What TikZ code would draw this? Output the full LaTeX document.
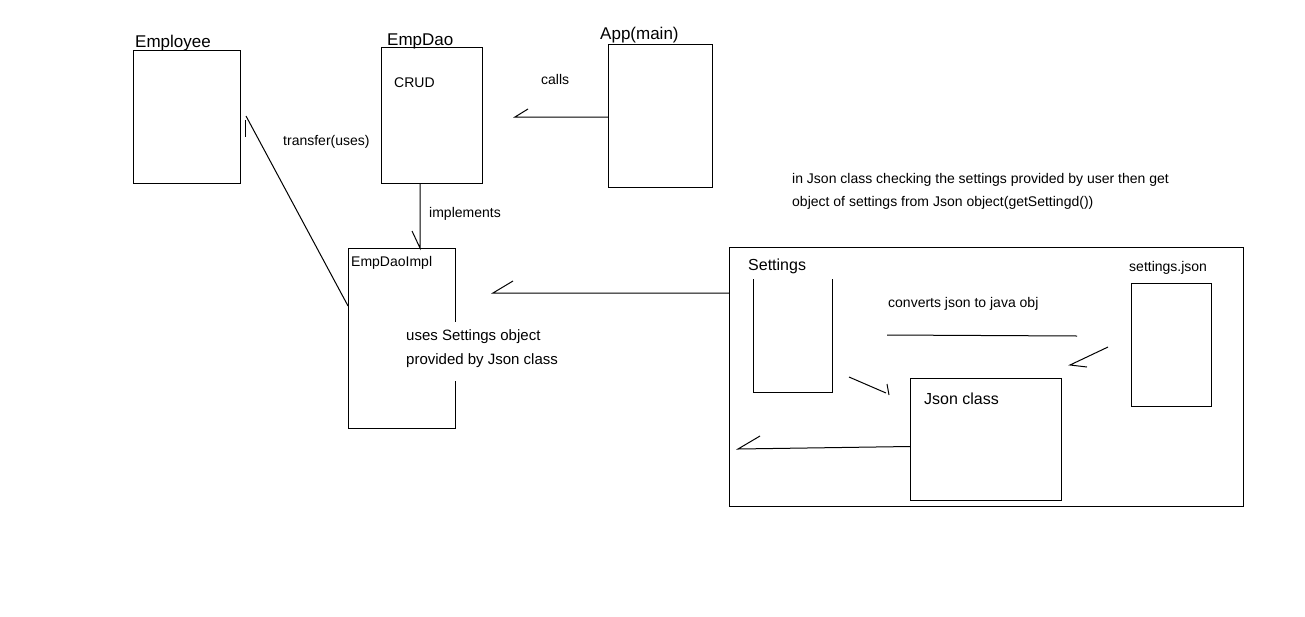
\documentclass[tikz,border=0pt]{standalone}
\usepackage{fontspec}
\setmainfont{Liberation Sans}
\usetikzlibrary{calc,positioning}

\tikzset{
	classbox/.style={draw, line width=1pt, anchor=north west, inner sep=0pt},
	txt/.style={anchor=base west, inner sep=0pt, font=\fontsize{14}{17}\selectfont},
	ttl/.style={txt, font=\fontsize{17}{20}\selectfont},
	wire/.style={line width=1pt}
}

\begin{document}
\begin{tikzpicture}[x=1pt, y=-1pt]
			\useasboundingbox (0,0) rectangle (1305,616);

			\node[classbox, minimum width=107, minimum height=133] (employee) at (133,50) {};
				\node[ttl] (employeettl) at (135,47) {Employee};
			\node[classbox, minimum width=101, minimum height=136] (empdao) at (381,47) {};
				\node[ttl] (empdaottl) at (387,45) {EmpDao};
				\node[txt] (crud) at (394,87) {CRUD};
			\node[classbox, minimum width=104, minimum height=143] (app) at (608,44) {};
				\node[ttl] (appttl) at (600,39) {App(main)};
				\node[txt] (calls) at (541,84) {calls};

			\node[classbox, minimum width=107, minimum height=180] (impl) at (348,248) {};
				\node[txt] (impltll) at (351,266) {EmpDaoImpl};
				\node[txt, font=\fontsize{15}{18}\selectfont, fill=white, inner xsep=6, inner ysep=7, text height=11, text depth=4] (usesa) at (400,340) {uses Settings object};
				\node[txt, font=\fontsize{15}{18}\selectfont, fill=white, inner xsep=6, inner ysep=7, text height=11, text depth=10] (usesb) at (400,364) {provided by Json class};
				\node[txt] (transfer) at (283,145) {transfer(uses)};
				\node[txt] (implements) at (429,217) {implements};

			\node[txt] (notea) at (792,183) {in Json class checking the settings provided by user then get};
			\node[txt] (noteb) at (792,206) {object of settings from Json object(getSettingd())};

			% json part
			\node[classbox, minimum width=514, minimum height=259] (group) at (729,247) {};
				\node[txt, font=\fontsize{16}{19}\selectfont] (settingsttl) at (748,270) {Settings};
				\node[anchor=north west, inner sep=0pt, minimum width=79, minimum height=113] (settings) at (753,279) {};
				\draw[wire] (settings.north west) -- (settings.south west) -- (settings.south east) -- (settings.north east);
				\node[txt] (setjsonttl) at (1129,271) {settings.json};
				\node[classbox, minimum width=80, minimum height=123] (setjson) at (1131,283) {};
				\node[txt] (converts) at (888,307) {converts json to java obj};
				\node[classbox, minimum width=151, minimum height=122] (jsonclass) at (910,378) {};
				\node[txt, font=\fontsize{16}{19}\selectfont] (jsonttl) at (924,404) {Json class};

			% connectors
			\coordinate (callstip) at (515,117);
			\draw[wire] (app.west |- callstip) -- (callstip) -- ++(13,-8);

			\coordinate (emptip) at (246,116);
			\draw[wire] ($(impl.north west)!0.32!(impl.south west)$) -- (emptip);
			\draw[wire] ($(emptip)+(-1,4)$) -- ++(0,17);

			\coordinate (impltop) at (420,248);
			\draw[wire] (empdao.south -| impltop) -- (impltop) -- ++(-8,-17);

			\coordinate (grouptip) at (493,293);
			\draw[wire] (group.west |- grouptip) -- (grouptip) -- ++(20,-12);

			\coordinate (conva) at (887,335);
			\coordinate (convb) at (1077,336);
			\draw[wire] (conva) -- (convb);

			\coordinate (settail) at (849,377);
			\coordinate (settip) at (886,393);
			\draw[wire] (settail) -- (settip);
			\draw[wire] ($(settip)+(1,-9)$) -- ++(2,11);

			\coordinate (jstail) at (1108,347);
			\coordinate (jstip) at (1070,365);
			\draw[wire] (jstail) -- (jstip) -- ++(17,2);

			\coordinate (outtip) at (738,449);
			\draw[wire] ($(jsonclass.west)+(0,7)$) -- (outtip) -- ++(22,-13);

		\end{tikzpicture}
\end{document}
